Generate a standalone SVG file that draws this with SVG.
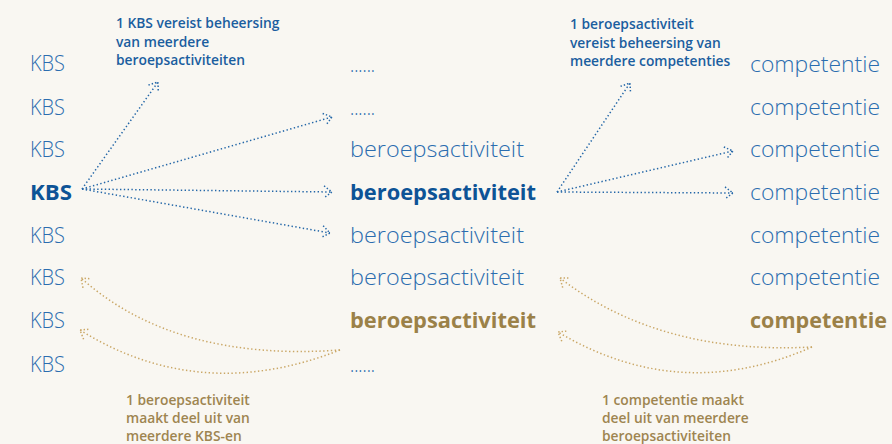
<svg xmlns="http://www.w3.org/2000/svg" width="892" height="444" viewBox="0 0 892 444">
<defs>
<style>
.t{font-family:"Open Sans","Liberation Sans",sans-serif;font-size:22px;font-weight:300;fill:#2b6daf}
.b{font-weight:700;fill:#0d5396}
.g{font-weight:700;fill:#9b8148}
.n{font-family:"Open Sans","Liberation Sans",sans-serif;font-size:13.8px;font-weight:600}
.nb{fill:#1b5e9f}
.ng{fill:#9e8550}
.lb{fill:none;stroke:#2467a8;stroke-width:1.5;stroke-dasharray:1.4 2.4}
.lg{fill:none;stroke:#caa766;stroke-width:1.5;stroke-dasharray:1.4 2.4}
</style>
<marker id="ab" markerUnits="userSpaceOnUse" markerWidth="20" markerHeight="20" refX="0" refY="0" viewBox="-12 -10 14 20" orient="auto" overflow="visible">
<path d="M-8,-6 L0,0 L-8,6" fill="none" stroke="#2467a8" stroke-width="1.5" stroke-dasharray="1.4 2"/>
</marker>
<marker id="ag" markerUnits="userSpaceOnUse" markerWidth="20" markerHeight="20" refX="0" refY="0" viewBox="-12 -10 14 20" orient="auto" overflow="visible">
<path d="M-8,-6 L0,0 L-8,6" fill="none" stroke="#caa766" stroke-width="1.5" stroke-dasharray="1.4 2"/>
</marker>
</defs>
<rect width="892" height="444" fill="#f9f7f2"/>
<g id="col-kbs">
<text id="kbs1" class="t" x="30" y="71" textLength="35" lengthAdjust="spacingAndGlyphs">KBS</text>
<text id="kbs2" class="t" x="30" y="115" textLength="35" lengthAdjust="spacingAndGlyphs">KBS</text>
<text id="kbs3" class="t" x="30" y="157" textLength="35" lengthAdjust="spacingAndGlyphs">KBS</text>
<text id="kbs4" class="t b" x="30" y="200" textLength="42" lengthAdjust="spacingAndGlyphs">KBS</text>
<text id="kbs5" class="t" x="30" y="243" textLength="35" lengthAdjust="spacingAndGlyphs">KBS</text>
<text id="kbs6" class="t" x="30" y="285" textLength="35" lengthAdjust="spacingAndGlyphs">KBS</text>
<text id="kbs7" class="t" x="30" y="328" textLength="35" lengthAdjust="spacingAndGlyphs">KBS</text>
<text id="kbs8" class="t" x="30" y="372" textLength="35" lengthAdjust="spacingAndGlyphs">KBS</text>
</g>
<g id="col-ba">
<text id="ba1" class="t" x="350" y="72" textLength="25" lengthAdjust="spacingAndGlyphs">......</text>
<text id="ba2" class="t" x="350" y="115" textLength="25" lengthAdjust="spacingAndGlyphs">......</text>
<text id="ba3" class="t" x="350" y="157" textLength="174" lengthAdjust="spacingAndGlyphs">beroepsactiviteit</text>
<text id="ba4" class="t b" x="350" y="200" textLength="186" lengthAdjust="spacingAndGlyphs">beroepsactiviteit</text>
<text id="ba5" class="t" x="350" y="243" textLength="174" lengthAdjust="spacingAndGlyphs">beroepsactiviteit</text>
<text id="ba6" class="t" x="350" y="285" textLength="174" lengthAdjust="spacingAndGlyphs">beroepsactiviteit</text>
<text id="ba7" class="t g" x="350" y="328" textLength="186" lengthAdjust="spacingAndGlyphs">beroepsactiviteit</text>
<text id="ba8" class="t" x="350" y="372" textLength="25" lengthAdjust="spacingAndGlyphs">......</text>
</g>
<g id="col-comp">
<text id="c1" class="t" x="750" y="72" textLength="130" lengthAdjust="spacingAndGlyphs">competentie</text>
<text id="c2" class="t" x="750" y="115" textLength="130" lengthAdjust="spacingAndGlyphs">competentie</text>
<text id="c3" class="t" x="750" y="157" textLength="130" lengthAdjust="spacingAndGlyphs">competentie</text>
<text id="c4" class="t" x="750" y="200" textLength="130" lengthAdjust="spacingAndGlyphs">competentie</text>
<text id="c5" class="t" x="750" y="243" textLength="130" lengthAdjust="spacingAndGlyphs">competentie</text>
<text id="c6" class="t" x="750" y="285" textLength="130" lengthAdjust="spacingAndGlyphs">competentie</text>
<text id="c7" class="t g" x="750" y="328" textLength="137" lengthAdjust="spacingAndGlyphs">competentie</text>
</g>
<g id="note-kbs" class="n nb">
<text x="116" y="28">1 KBS vereist beheersing</text>
<text x="116" y="46.5">van meerdere</text>
<text x="116" y="65">beroepsactiviteiten</text>
</g>
<g id="note-ba" class="n nb">
<text x="570" y="29">1 beroepsactiviteit</text>
<text x="570" y="47.5">vereist beheersing van</text>
<text x="570" y="66">meerdere competenties</text>
</g>
<g id="note-ba-kbs" class="n ng">
<text x="126" y="405">1 beroepsactiviteit</text>
<text x="126" y="423">maakt deel uit van</text>
<text x="126" y="441">meerdere KBS-en</text>
</g>
<g id="note-comp" class="n ng">
<text x="602" y="405">1 competentie maakt</text>
<text x="602" y="423">deel uit van meerdere</text>
<text x="602" y="441">beroepsactiviteiten</text>
</g>
<g id="connectors">
<path class="lb" d="M82,189 L158,82" marker-end="url(#ab)"/>
<path class="lb" d="M82,189 L332,117" marker-end="url(#ab)"/>
<path class="lb" d="M82,189 L332,192" marker-end="url(#ab)"/>
<path class="lb" d="M82,189 L330,233" marker-end="url(#ab)"/>
<path class="lb" d="M557,192 L630,83" marker-end="url(#ab)"/>
<path class="lb" d="M557,192 L733,151" marker-end="url(#ab)"/>
<path class="lb" d="M557,192 L733,193" marker-end="url(#ab)"/>
<path class="lg" d="M340,350 Q175,362 81,278" marker-end="url(#ag)"/>
<path class="lg" d="M340,350 Q200,405 80,330" marker-end="url(#ag)"/>
<path class="lg" d="M812,347 Q660,355 560,278" marker-end="url(#ag)"/>
<path class="lg" d="M812,347 Q680,405 558,332" marker-end="url(#ag)"/>
</g>
</svg>
